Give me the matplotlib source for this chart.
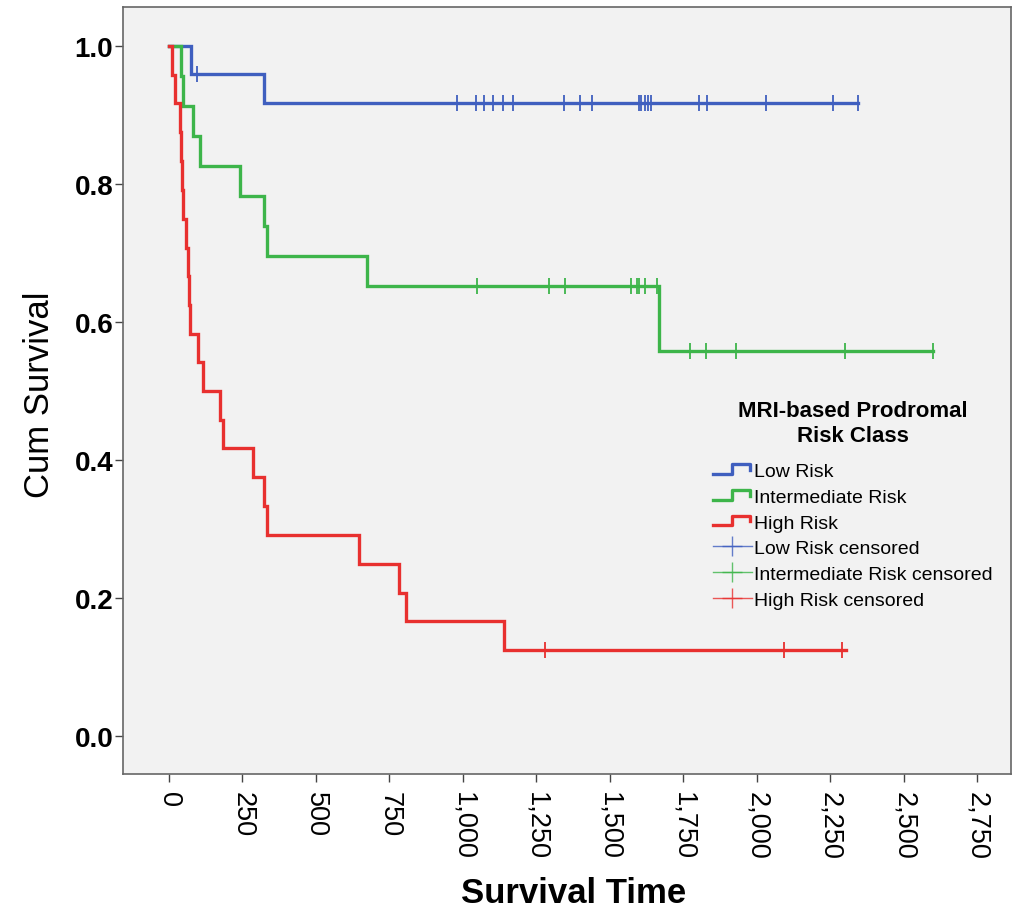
import numpy as np
import matplotlib
matplotlib.use("Agg")
import matplotlib.pyplot as plt
from matplotlib.lines import Line2D
from matplotlib.legend_handler import HandlerBase
from matplotlib.ticker import FuncFormatter, MultipleLocator

plt.rcParams["font.family"] = ["Liberation Sans", "DejaVu Sans"]

# Kaplan-Meier steps (time, cumulative survival)
low_times = [0, 75, 324]
low_surv = [1.0, 0.960, 0.918]
low_end = 2344
low_censored = [96, 980, 1045, 1073, 1102, 1136, 1172, 1343, 1398, 1440,
                1598, 1607, 1618, 1629, 1641, 1803, 1831, 2030, 2259, 2344]

mid_times = [0, 41, 49, 81, 106, 242, 324, 333, 673, 1668]
mid_surv = [1.0, 0.957, 0.913, 0.870, 0.826, 0.783, 0.739, 0.696, 0.652, 0.559]
mid_end = 2600
mid_censored = [1047, 1293, 1347, 1573, 1591, 1600, 1621, 1660,
                1773, 1828, 1929, 2300, 2600]

high_times = [0, 9, 20, 37, 41, 45, 49, 58, 63, 69, 71, 100, 117, 174, 182,
              287, 324, 335, 646, 781, 806, 1141]
high_surv = [1.0, 0.958, 0.917, 0.875, 0.833, 0.792, 0.750, 0.708, 0.667,
             0.625, 0.583, 0.542, 0.500, 0.458, 0.417, 0.375, 0.333, 0.292,
             0.250, 0.208, 0.167, 0.125]
high_end = 2302
high_censored = [1278, 2092, 2290]

groups = ["Low Risk", "Intermediate Risk", "High Risk"]
colors = ["#3F5FBF", "#3DB54A", "#E8302F"]


class StepHandler(HandlerBase):
    # small step icon like the SPSS legend
    def create_artists(self, legend, orig_handle, xdescent, ydescent,
                       width, height, fontsize, trans):
        x0 = -xdescent
        y0 = -ydescent
        xs = np.array([0, 0.5, 0.5, 0.95, 0.95]) * width + x0
        ys = np.array([0.15, 0.15, 0.85, 0.85, 0.45]) * height + y0
        ln = Line2D(xs, ys, color=orig_handle.get_color(),
                    linewidth=orig_handle.get_linewidth(), transform=trans)
        return [ln]


fig = plt.figure(figsize=(10.24, 9.12), dpi=100)
ax = fig.add_axes([0.120, 0.150, 0.867, 0.841])
ax.set_facecolor("#F2F2F2")

data = [
    (low_times, low_surv, low_end, low_censored),
    (mid_times, mid_surv, mid_end, mid_censored),
    (high_times, high_surv, high_end, high_censored),
]

step_handles = []
cens_handles = []
for (t, s, end, cens), name, c in zip(data, groups, colors):
    tt = list(t) + [end]
    ss = list(s) + [s[-1]]
    h, = ax.step(tt, ss, where="post", color=c, linewidth=2.4,
                 label=name, solid_joinstyle="miter")
    step_handles.append(h)
    idx = np.searchsorted(t, cens, side="right") - 1
    cy = np.array(s)[idx]
    ax.plot(cens, cy, linestyle="none", marker="|", markersize=11,
            markeredgewidth=1.3, color=c)
    ch = Line2D([], [], color=c, linewidth=1.0, marker="+",
                markersize=14, markeredgewidth=1.0, alpha=0.8)
    cens_handles.append(ch)

ax.set_xlim(-157, 2864)
ax.set_ylim(-0.055, 1.0565)
ax.xaxis.set_major_locator(MultipleLocator(250))
ax.yaxis.set_major_locator(MultipleLocator(0.2))
ax.xaxis.set_major_formatter(FuncFormatter(lambda v, p: f"{int(v):,}"))
ax.yaxis.set_major_formatter(FuncFormatter(lambda v, p: f"{v:.1f}"))

ax.tick_params(axis="both", direction="out", length=6, width=1.0,
               color="#444444")
ax.tick_params(axis="x", pad=6, labelrotation=-90, labelsize=19.5)
ax.tick_params(axis="y", pad=1, labelsize=20)
for lbl in ax.get_yticklabels():
    lbl.set_fontweight("bold")
for lbl in ax.get_xticklabels():
    lbl.set_va("top")
    lbl.set_ha("center")
for sp in ax.spines.values():
    sp.set_color("#666666")
    sp.set_linewidth(1.2)

fig.text(40 / 1024, 1 - 395 / 912, "Cum Survival", rotation=90,
         ha="center", va="center", fontsize=25)
fig.text(574 / 1024, 1 - 894 / 912, "Survival Time", ha="center",
         va="center", fontsize=25, fontweight="bold")

labels = groups + [g + " censored" for g in groups]
handler_map = {h: StepHandler() for h in step_handles}
leg = ax.legend(step_handles + cens_handles, labels,
                loc="upper left", bbox_to_anchor=(0.683, 0.5747),
                bbox_transform=fig.transFigure, frameon=False,
                fontsize=14, handlelength=2.0, handletextpad=0.1,
                labelspacing=0.42, borderpad=0.2,
                title="MRI-based Prodromal\nRisk Class",
                title_fontproperties={"size": 16, "weight": "bold"},
                handler_map=handler_map)
leg.get_title().set_multialignment("center")
leg._legend_box.sep = 12

fig.savefig("out.png", dpi=100, facecolor="white")
